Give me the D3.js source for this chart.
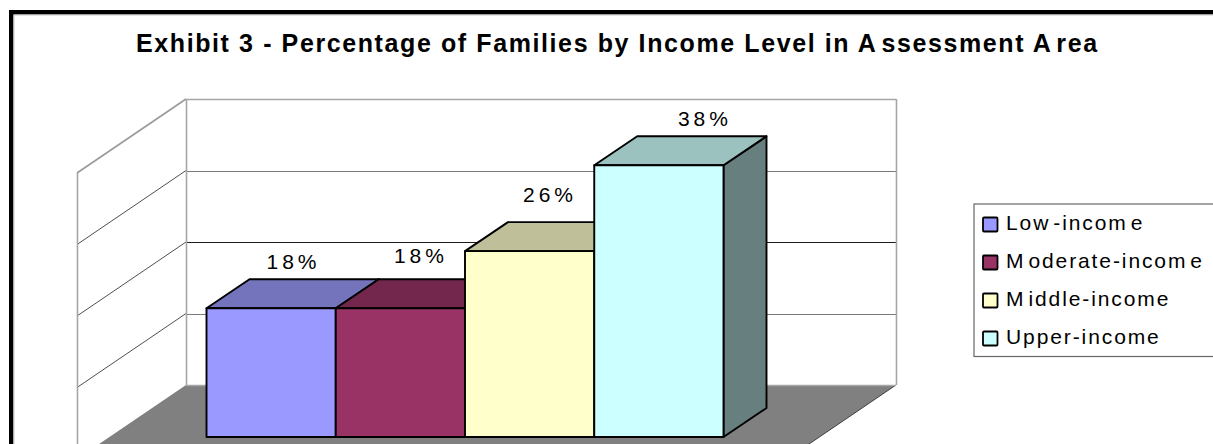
<!DOCTYPE html>
<html>
<head>
<meta charset="utf-8">
<style>
html,body{margin:0;padding:0;background:#fff;overflow:hidden}
svg{display:block}
text{font-family:"Liberation Sans",Arial,sans-serif;fill:#000}
</style>
<script src="https://cdn.jsdelivr.net/npm/d3@7/dist/d3.min.js"></script>
</head>
<body>
<svg id="chart" width="1213" height="444"></svg>
<script>
// Chart content
const titleParts = ["Exhibit 3 - Percentage of Families by Income Level in A", "ssessment A", "rea"];
const categories = ["Low-income", "Moderate-income", "Middle-income", "Upper-income"];
const legendParts = [["Low", "-incom", "e"], ["M", "oderate-incom", "e"], ["M", "iddle-income"], ["Upper-income"]];
const values = [18, 18, 26, 38];
const valueLabels = ["18%", "18%", "26%", "38%"];
const frontColors = ["#9999ff", "#993366", "#ffffcc", "#ccffff"];
const topColors = ["#7474bc", "#73274c", "#bfbf99", "#9cc2c0"];
const sideColors = ["#5c5c99", "#5c1f3d", "#99997a", "#677f7e"];
const gridTicks = [0, 10, 20, 30, 40];
const gridColors = ["#a6a6a6", "#7a7a7a", "#1c1c1c", "#7a7a7a", "#a6a6a6"];

// Layout of the projected box
const wall = {left: 186, right: 896, top: 99, floor: 385};
const box = {dx: 109, dy: 74};          // offset from back wall to front of the floor
const bar = {x0: 206.5, x1: 723.5, dx: 43, dy: 29, base: 437};
const labelOffset = [[87, -39.6], [85.2, -45.6], [85, -49], [110.7, -39.6]];

const svg = d3.select("#chart");
const y = d3.scaleLinear().domain([0, 40]).range([wall.floor, wall.top]);
const x = d3.scaleBand().domain(categories).range([bar.x0, bar.x1]);
const h = d3.scaleLinear().domain([0, 40]).range([0, wall.floor - wall.top]);
const poly = pts => "M" + pts.map(p => p.join(",")).join("L") + "Z";

// Outer frame, running off the right and bottom edges
svg.append("path")
  .attr("d", "M11.2,470V12.2H1240")
  .attr("fill", "none").attr("stroke", "#000").attr("stroke-width", 4.4);
svg.append("path")
  .attr("d", "M13.9,470V14.9H1240")
  .attr("fill", "none").attr("stroke", "#b8b8b8").attr("stroke-width", 1);

// Floor
svg.append("path")
  .attr("d", poly([[wall.left, wall.floor], [wall.right, wall.floor],
                   [wall.right - box.dx, wall.floor + box.dy], [wall.left - box.dx, wall.floor + box.dy]]))
  .attr("fill", "#808080");
svg.append("line")
  .attr("x1", wall.right).attr("y1", wall.floor)
  .attr("x2", wall.right - box.dx).attr("y2", wall.floor + box.dy)
  .attr("stroke", "#222").attr("stroke-width", 0.8);

// Gridlines on the side and back walls
const grid = svg.append("g").selectAll("g").data(gridTicks).join("g");
grid.append("line")
  .attr("x1", wall.left).attr("x2", wall.right)
  .attr("y1", d => Math.round(y(d)) + 0.5).attr("y2", d => Math.round(y(d)) + 0.5)
  .attr("stroke", (d, i) => gridColors[i])
  .attr("stroke-width", d => (d === 0 || d === 40) ? 1.6 : 1);
grid.filter(d => d > 0).append("line")
  .attr("x1", wall.left).attr("y1", d => y(d))
  .attr("x2", wall.left - box.dx).attr("y2", d => y(d) + box.dy)
  .attr("stroke", d => d === 40 ? "#9a9a9a" : "#222")
  .attr("stroke-width", d => d === 40 ? 1.6 : 0.8);

// Wall uprights
svg.append("path")
  .attr("d", `M${wall.left + .5},${wall.top}V${wall.floor}M${wall.right + .5},${wall.top}V${wall.floor}`)
  .attr("fill", "none").attr("stroke", "#a6a6a6").attr("stroke-width", 1.6);
svg.append("path")
  .attr("d", `M${wall.left - box.dx + .5},${wall.top + box.dy}V470`)
  .attr("fill", "none").attr("stroke", "#a6a6a6").attr("stroke-width", 1.6);

// Bars: side face, top face and front face of each column
const bars = svg.append("g").selectAll("g").data(values).join("g");
const edge = s => s.attr("stroke", "#000").attr("stroke-width", 1.9).attr("stroke-linejoin", "round");
const barLeft = (d, i) => x(categories[i]);
const barRight = (d, i) => barLeft(d, i) + x.bandwidth();
const barTop = d => bar.base - h(d);

bars.append("path")
  .attr("d", (d, i) => poly([[barRight(d, i), bar.base], [barRight(d, i) + bar.dx, bar.base - bar.dy],
                             [barRight(d, i) + bar.dx, barTop(d) - bar.dy], [barRight(d, i), barTop(d)]]))
  .attr("fill", (d, i) => sideColors[i]).call(edge);
bars.append("path")
  .attr("d", (d, i) => poly([[barLeft(d, i), barTop(d)], [barLeft(d, i) + bar.dx, barTop(d) - bar.dy],
                             [barRight(d, i) + bar.dx, barTop(d) - bar.dy], [barRight(d, i), barTop(d)]]))
  .attr("fill", (d, i) => topColors[i]).call(edge);
bars.append("rect")
  .attr("x", barLeft).attr("y", barTop)
  .attr("width", x.bandwidth()).attr("height", d => h(d))
  .attr("fill", (d, i) => frontColors[i]).call(edge);

// Value labels
bars.append("text")
  .attr("x", (d, i) => barLeft(d, i) + labelOffset[i][0])
  .attr("y", (d, i) => barTop(d) + labelOffset[i][1])
  .attr("text-anchor", "middle")
  .attr("font-size", 21).attr("letter-spacing", 4)
  .text((d, i) => valueLabels[i]);

// Title, with the wider gaps after each capital A
const title = svg.append("text")
  .attr("x", 136).attr("y", 52)
  .attr("font-size", 25).attr("font-weight", "bold").attr("letter-spacing", 1.6);
titleParts.forEach((t, i) => title.append("tspan").attr("dx", i ? 4 : 0).text(t));

// Legend box, open past the right edge
svg.append("rect")
  .attr("x", 974).attr("y", 204).attr("width", 300).attr("height", 152.5)
  .attr("fill", "#fff").attr("stroke", "#666").attr("stroke-width", 1.2);
const legend = svg.append("g").selectAll("g").data(categories).join("g")
  .attr("transform", d => `translate(0,${d3.scalePoint().domain(categories).range([230, 344])(d)})`);
legend.append("rect")
  .attr("x", 983).attr("y", -12.5).attr("width", 14.5).attr("height", 14)
  .attr("rx", 1)
  .attr("fill", (d, i) => frontColors[i]).attr("stroke", "#000").attr("stroke-width", 1.8);
const legendText = legend.append("text")
  .attr("x", 1006).attr("y", 0)
  .attr("font-size", 21).attr("letter-spacing", 1.9);
legendText.each(function (d, i) {
  const t = d3.select(this);
  legendParts[i].forEach((p, j) => t.append("tspan").attr("dx", j ? 3 : 0).text(p));
});
</script>
</body>
</html>
